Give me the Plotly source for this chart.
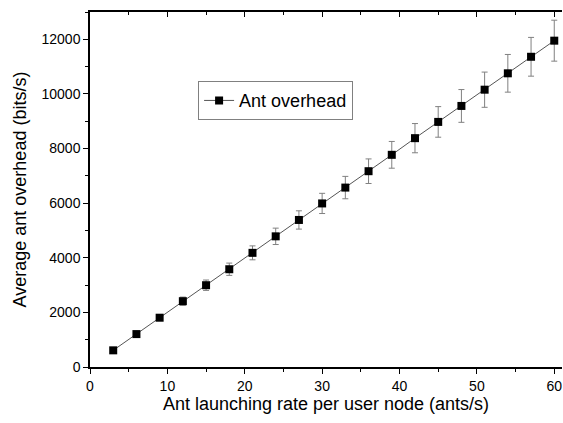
import plotly.graph_objects as go

x_rate = [3, 6, 9, 12, 15, 18, 21, 24, 27, 30, 33, 36, 39, 42, 45, 48, 51, 54, 57, 60]
overhead = [610, 1205, 1805, 2410, 2995, 3580, 4180, 4785, 5385, 5990,
            6570, 7170, 7770, 8380, 8975, 9560, 10155, 10755, 11360, 11950]
err = [30, 60, 100, 150, 190, 225, 255, 300, 335, 370,
       410, 450, 490, 535, 560, 600, 645, 690, 710, 750]
x_ticks = [0, 10, 20, 30, 40, 50, 60]
y_ticks = [0, 2000, 4000, 6000, 8000, 10000, 12000]
y_tick_text = ["0", "2000", "4000", "6000", "8000", "10000", "12000"]

font = "Liberation Sans, Arial, sans-serif"

fig = go.Figure()
fig.add_trace(go.Scatter(
    x=x_rate, y=overhead, mode="lines+markers", name="Ant overhead",
    line=dict(color="#555555", width=1),
    marker=dict(symbol="square", size=8, color="black"),
    error_y=dict(type="data", array=err, visible=True, color="#808080",
                 thickness=1, width=3),
))
# invisible trace for the top axis
fig.add_trace(go.Scatter(x=[0], y=[0], xaxis="x2", mode="markers",
                         marker=dict(opacity=0), showlegend=False, hoverinfo="skip"))

fig.update_layout(
    width=563, height=423,
    margin=dict(l=90, r=1, t=12, b=56),
    paper_bgcolor="white", plot_bgcolor="white",
    font=dict(family=font, color="black"),
    showlegend=True,
    legend=dict(x=0.229, y=0.805, xanchor="left", yanchor="top",
                bordercolor="#808080", borderwidth=1,
                font=dict(size=18, family=font), bgcolor="white",
                itemwidth=30),
    xaxis=dict(range=[0, 61], tickvals=x_ticks, ticks="outside", ticklen=5,
               tickwidth=1, tickcolor="black", showline=True, linecolor="black",
               linewidth=1.5, showgrid=False, zeroline=False,
               tickfont=dict(size=14),
               minor=dict(dtick=5, tick0=0, ticks="outside", ticklen=3, tickcolor="black"),
               title=dict(text="Ant launching rate per user node (ants/s)",
                          font=dict(size=18), standoff=5)),
    xaxis2=dict(range=[0, 61], overlaying="x", side="top", tickvals=x_ticks,
                ticks="inside", ticklen=5, tickcolor="black", showline=True,
                linecolor="black", linewidth=1.5, showticklabels=False,
                showgrid=False, zeroline=False,
                minor=dict(dtick=5, tick0=0, ticks="inside", ticklen=3, tickcolor="black")),
    yaxis=dict(range=[0, 13000], tickvals=y_ticks, ticktext=y_tick_text,
               ticks="outside", ticklen=5,
               tickwidth=1, tickcolor="black", showline=True, linecolor="black",
               linewidth=1.5, showgrid=False, zeroline=False,
               tickfont=dict(size=14),
               minor=dict(dtick=1000, tick0=0, ticks="outside", ticklen=3, tickcolor="black"),
               title=dict(text="Average ant overhead (bits/s)",
                          font=dict(size=18), standoff=10)),
)

fig.write_html("out.html")
